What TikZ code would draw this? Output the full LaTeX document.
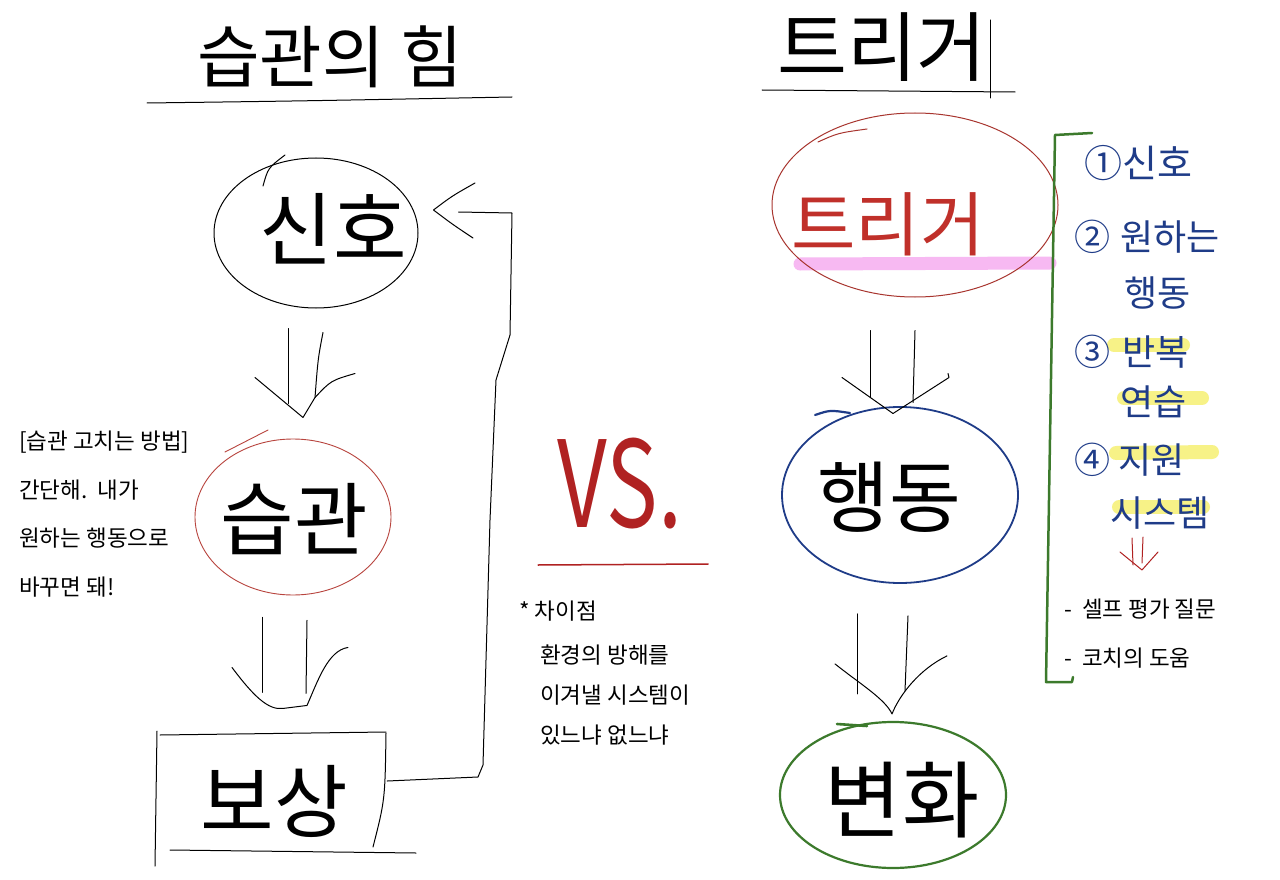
\documentclass[tikz,border=0pt]{standalone}
\usepackage{fontspec}
\setmainfont{Noto Sans CJK KR}
\usepackage{graphicx}
\usetikzlibrary{shapes.geometric,calc}
\definecolor{navy}{HTML}{1F3C88}
\definecolor{leaf}{HTML}{3C7A2C}
\definecolor{brick}{HTML}{A8352F}
\definecolor{rose}{HTML}{B8443E}
\definecolor{redtxt}{HTML}{C0302A}
\definecolor{vsred}{HTML}{B02222}
\definecolor{pinkhl}{HTML}{F7B9F2}
\definecolor{yellowhl}{HTML}{F5EF6A}
\newcommand{\hwsize}[1]{\fontsize{#1}{#1}\selectfont}
\begin{document}
\begin{tikzpicture}[x=1pt,y=-1pt,
  ink/.style={line width=1pt,line cap=round,line join=round},
  hand/.style={inner sep=0pt},
  oval/.style={ellipse,inner sep=0pt},
  note/.style={font=\hwsize{22.5},anchor=base west,inner sep=0pt},
  listtxt/.style={text=navy,anchor=west,inner sep=0pt},
  hl/.style={line width=14pt,line cap=round,yellowhl,opacity=0.8}]
\useasboundingbox (0,0) rectangle (1280,880);
\fill[white] (0,0) rectangle (1280,880);

% ---------- titles ----------
\node[hand,font=\hwsize{68}] (t1) at (330,57) {습관의 힘};
\draw[ink] (147,103) .. controls (300,101) .. (512,97);
\node[hand,font=\hwsize{76}] (t2) at (882,47) {트리거};
\draw[ink] (762,90) -- (1015,92);
\draw[ink] (990,20) -- (990,98);

% ---------- highlights ----------
\draw[pinkhl,line width=13pt,line cap=round] (800,264) -- (1050,263);
\draw[hl] (1114,345) -- (1183,345);
\draw[hl] (1124,398) -- (1202,398);
\draw[hl] (1116,453) -- (1212,452);
\draw[hl] (1119,507) -- (1203,507);

% ---------- left column ----------
\node[oval,draw,ink,minimum width=204pt,minimum height=150pt] (sig) at (316,233) {};
\draw[ink] (263,186) .. controls (268,168) .. (285,155);
\node[hand,font=\hwsize{80}] (sigt) at (333,229) {신호};

\node[oval,draw=rose,line width=0.9pt,minimum width=196pt,minimum height=156pt] (hab) at (293,517) {};
\draw[rose,line width=0.9pt,line cap=round] (225,452) -- (268,430);
\node[hand,font=\hwsize{80}] (habt) at (294,519) {습관};

\node[hand,minimum width=230pt,minimum height=120pt] (rew) at (272,792) {};
\draw[ink] (160,735) -- (386,732);
\draw[ink] (157,731) -- (155,866);
\draw[ink] (386,733) .. controls (385,800) .. (373,847);
\draw[ink] (170,850) -- (416,853);
\node[hand,font=\hwsize{80}] (rewt) at (274,801) {보상};

% arrow signal -> habit
\begin{scope}[shift={(sig.south)}]
  \draw[ink] (-28,20) -- (-28,95);
  \draw[ink] (7,24) .. controls (2,50) .. (-1,89);
  \draw[ink] (-61,69) -- (-13,109) -- (-1,89) .. controls (15,72) .. (39,65);
\end{scope}
% arrow habit -> reward
\begin{scope}[shift={(hab.south)}]
  \draw[ink] (-31,22) -- (-31,97);
  \draw[ink] (14,25) -- (13,98);
  \draw[ink] (-61,72) .. controls (-40,100) and (-25,115) .. (-10,113) -- (14,110) .. controls (25,85) and (35,55) .. (55,52);
\end{scope}
% feedback reward -> signal
\coordinate (fbend) at ($(sig.east)+(40,-21)$);
\draw[ink] ($(rew.east)+(0,-11)$) -- (478,777) -- (483,765) -- (490,520) -- (496,380) -- (510,335) -- (512,213) -- (fbend);
\draw[ink] (475,183) .. controls (452,196) .. ($(sig.east)+(15,-23)$) .. controls (452,224) .. (473,238);

% left note
\node[note] (n1) at (19,449) {[습관 고치는 방법]};
\node[note] (n2) at (19,498) {간단해.\ \ 내가};
\node[note] (n3) at (19,546) {원하는 행동으로};
\node[note] (n4) at (19,595) {바꾸면 돼!};

% ---------- middle ----------
\node[hand,text=vsred,font=\hwsize{120}] (vs) at (620,484) {\scalebox{0.72}[1]{VS.}};
\draw[vsred,line width=1.5pt,line cap=round] (538,565) -- (708,564);
\node[note] (d1) at (519,619) {* 차이점};
\node[note] (d2) at (540,663) {환경의 방해를};
\node[note] (d3) at (540,703) {이겨낼 시스템이};
\node[note] (d4) at (540,743) {있느냐 없느냐};

% ---------- right column ----------
\node[oval,draw=brick,line width=1pt,minimum width=286pt,minimum height=184pt] (trg) at (915,205) {};
\draw[brick,line width=1pt,line cap=round] (818,142) .. controls (838,133) .. (867,129);
\node[hand,text=redtxt,font=\hwsize{70}] (trgt) at (888,224) {트리거};

\node[oval,draw=navy,line width=1.8pt,minimum width=236pt,minimum height=176pt] (act) at (900,495) {};
\draw[navy,line width=2.2pt,line cap=round] (815,415) .. controls (830,410) .. (850,413);
\node[hand,font=\hwsize{78}] (actt) at (889,497) {행동};

\node[oval,draw=leaf,line width=2.2pt,minimum width=226pt,minimum height=146pt] (chg) at (893,795) {};
\draw[leaf,line width=2.6pt,line cap=round] (837,724) -- (867,726);
\node[hand,font=\hwsize{84}] (chgt) at (902,800) {변화};

% arrow trigger -> action
\begin{scope}[shift={(trg.south)}]
  \draw[ink] (-45,33) -- (-45,100);
  \draw[ink] (0,33) .. controls (-1,70) .. (-2,105);
  \draw[ink] (-73,80) -- (-22,116) -- (34,80) -- (33,76);
\end{scope}
% arrow action -> change
\begin{scope}[shift={(act.south)}]
  \draw[ink] (-43,30) -- (-43,110);
  \draw[ink] (8,32) -- (5,107);
  \draw[ink] (-65,80) .. controls (-40,100) and (-15,115) .. (-8,130) .. controls (0,110) and (20,85) .. (47,72);
\end{scope}

% ---------- bracket and list ----------
\draw[leaf,line width=2.5pt,line cap=round,line join=round] (1092,133) -- (1055,135) -- (1046,682) -- (1072,682) -- (1073,677);
\node[listtxt,font=\hwsize{38}] (l1) at (1084,163) {①신호};
\node[listtxt,font=\hwsize{36}] (l2) at (1074,237) {②\hspace{10pt}원하는};
\node[listtxt,font=\hwsize{36}] (l2b) at (1124,293) {행동};
\node[listtxt,font=\hwsize{36}] (l3) at (1074,352) {③\hspace{12pt}반복};
\node[listtxt,font=\hwsize{36}] (l3b) at (1120,402) {연습};
\node[listtxt,font=\hwsize{36}] (l4) at (1074,460) {④\hspace{8pt}지원};
\node[listtxt,font=\hwsize{36}] (l4b) at (1110,513) {시스템};
\draw[vsred,line width=1pt,line cap=round] (1132,538) -- (1133,565);
\draw[vsred,line width=1pt,line cap=round] (1143,537) -- (1142,563);
\draw[vsred,line width=1pt,line cap=round,line join=round] (1120,552) -- (1142,570) -- (1158,552);
\node[note] (s1) at (1064,617) {-\ \ 셀프 평가 질문};
\node[note] (s2) at (1064,666) {-\ \ 코치의 도움};
\end{tikzpicture}
\end{document}
